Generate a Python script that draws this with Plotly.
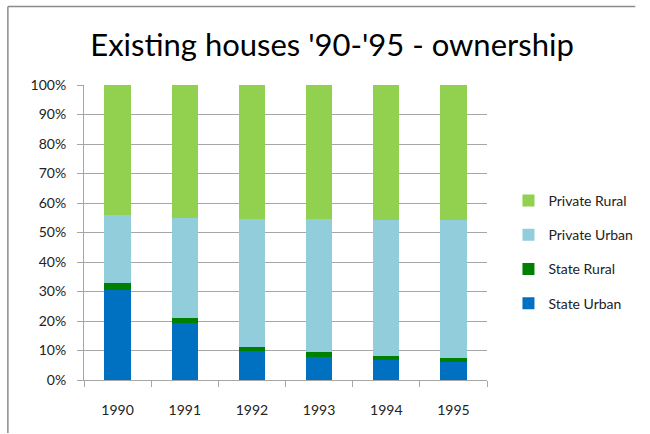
import plotly.graph_objects as go

years = ["1990", "1991", "1992", "1993", "1994", "1995"]
state_urban = [30.5, 19.4, 9.9, 7.7, 6.8, 6.2]
state_rural = [2.3, 1.7, 1.4, 1.7, 1.3, 1.3]
private_urban = [23.1, 33.9, 43.3, 45.2, 46.3, 46.9]
private_rural = [44.1, 45.0, 45.4, 45.4, 45.6, 45.6]

series = [
    ("State Urban", state_urban, "#0070C0", 4),
    ("State Rural", state_rural, "#008000", 3),
    ("Private Urban", private_urban, "#92CDDC", 2),
    ("Private Rural", private_rural, "#92D050", 1),
]

fig = go.Figure()
for name, vals, color, rank in series:
    fig.add_trace(go.Bar(
        x=years, y=[v / 100 for v in vals], name=name,
        marker=dict(color=color, line=dict(width=0)),
        legendgroup=name, legendrank=rank, width=0.39,
    ))

W, H = 650, 434
ml, mr, mt, mb = 84, 153, 85, 54
pw, ph = W - ml - mr, H - mt - mb
fig.update_layout(
    width=W, height=H,
    margin=dict(l=ml, r=mr, t=mt, b=mb),
    barmode="stack",
    paper_bgcolor="white", plot_bgcolor="white",
    font=dict(family="Lato, Open Sans, sans-serif", size=13, color="#222"),
    title=dict(text="Existing houses '90-'95 - ownership", x=332 / W, xref="container",
               xanchor="center", y=1 - 45 / H, yref="container", yanchor="middle",
               font=dict(size=31, color="black", family="Lato, Open Sans, sans-serif")),
    legend=dict(traceorder="grouped", tracegroupgap=13,
                x=1 + 22 / pw, xanchor="left",
                y=1 - (185 - mt) / ph, yanchor="top",
                font=dict(size=14, color="#222"),
                itemwidth=30),
    xaxis=dict(showgrid=False, showline=True, linecolor="#a6a6a6", linewidth=1,
               ticks="outside", tickson="boundaries", ticklen=6, tickcolor="#a6a6a6",
               tickfont=dict(size=14, color="#222"), ticklabelstandoff=17),
    yaxis=dict(range=[0, 1], tickformat=".0%", dtick=0.1, showgrid=True,
               gridcolor="#a6a6a6", gridwidth=1, showline=True, linecolor="#a6a6a6",
               ticks="outside", ticklen=6, tickcolor="#a6a6a6",
               tickfont=dict(size=14, color="#222"), zeroline=False,
               ticklabelstandoff=8),
    shapes=[
        dict(type="line", xref="paper", yref="paper",
             x0=-(ml - 6) / pw, x1=(W - ml - 1) / pw,
             y0=1 + (mt - 6.5) / ph, y1=1 + (mt - 6.5) / ph,
             line=dict(color="#8c8c8c", width=1.5), layer="above"),
        dict(type="line", xref="paper", yref="paper",
             x0=-(ml - 6) / pw, x1=-(ml - 6) / pw,
             y0=1 + (mt - 6.5) / ph, y1=-(mb - 1) / ph,
             line=dict(color="#8c8c8c", width=1.5), layer="above"),
    ],
)

fig.write_html("out.html", config={"displayModeBar": False},
               post_script="document.body.style.margin='0';")
